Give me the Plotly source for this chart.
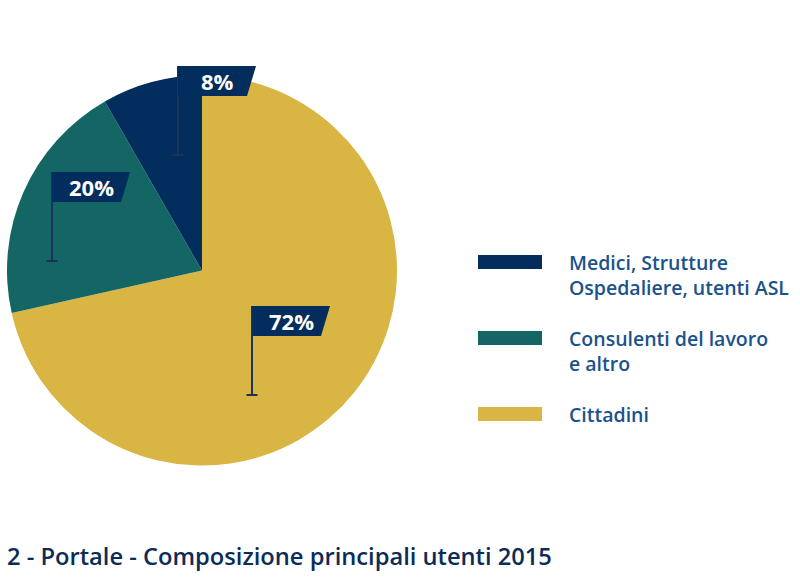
import plotly.graph_objects as go

# ---------------- data ----------------
labels = ["Medici, Strutture Ospedaliere, utenti ASL",
          "Consulenti del lavoro e altro",
          "Cittadini"]
legend_lines = [["Medici, Strutture", "Ospedaliere, utenti ASL"],
                ["Consulenti del lavoro", "e altro"],
                ["Cittadini"]]
values = [8.3, 20.2, 71.5]
colors = ["#032d5c", "#136663", "#d9b544"]
title_text = "2 - Portale - Composizione principali utenti 2015"

# ---------------- layout helpers ----------------
W, H = 800, 580
def px(x): return x / W
def py(y): return 1 - y / H

CX, CY, R = 202, 270.5, 195          # pie placement (pixels)
FONT = "Open Sans"
NAVY = "#032d5c"
POLE = "#1b3358"

# flag pole top-left anchor per slice (pixels)
flag_pos = [(178, 66), (52, 172), (252, 306)]
FLAG_TOP_W, FLAG_BOT_W, FLAG_H, POLE_LEN = 78, 69, 30, 89

# slices drawn clockwise from 12 o'clock: Cittadini, Consulenti, Medici
fig = go.Figure(go.Pie(
    labels=labels[::-1], values=values[::-1], sort=False,
    direction="clockwise", rotation=0,
    marker=dict(colors=colors[::-1], line=dict(width=0)),
    textinfo="none", showlegend=False, hoverinfo="label+percent",
    domain=dict(x=[px(CX - R), px(CX + R)], y=[py(CY + R), py(CY - R)]),
))

shapes, annos = [], []
total = sum(values)
for (fx, fy), v in zip(flag_pos, values):
    # pole
    shapes.append(dict(type="line", xref="paper", yref="paper",
                       x0=px(fx), x1=px(fx), y0=py(fy), y1=py(fy + POLE_LEN),
                       line=dict(color=POLE, width=2)))
    shapes.append(dict(type="line", xref="paper", yref="paper",
                       x0=px(fx - 5.5), x1=px(fx + 5.5),
                       y0=py(fy + POLE_LEN), y1=py(fy + POLE_LEN),
                       line=dict(color=POLE, width=2)))
    # flag
    path = (f"M {px(fx)} {py(fy)} L {px(fx + FLAG_TOP_W)} {py(fy)} "
            f"L {px(fx + FLAG_BOT_W)} {py(fy + FLAG_H)} L {px(fx)} {py(fy + FLAG_H)} Z")
    shapes.append(dict(type="path", xref="paper", yref="paper", path=path,
                       fillcolor=NAVY, line=dict(width=0)))
    annos.append(dict(xref="paper", yref="paper", x=px(fx + 39), y=py(fy + FLAG_H / 2),
                      text=f"{int(v / total * 100 + 0.5)}%", showarrow=False,
                      xanchor="center", yanchor="middle",
                      font=dict(family=FONT, size=22, color="white", weight=700)))

# custom legend
LEG_X0, LEG_X1, LEG_Y0, LEG_STEP, LEG_RH = 478, 542, 255, 76, 14
for i, (lines, c) in enumerate(zip(legend_lines, colors)):
    y0 = LEG_Y0 + i * LEG_STEP
    shapes.append(dict(type="rect", xref="paper", yref="paper",
                       x0=px(LEG_X0), x1=px(LEG_X1), y0=py(y0), y1=py(y0 + LEG_RH),
                       fillcolor=c, line=dict(width=0)))
    annos.append(dict(xref="paper", yref="paper", x=px(567), y=py(y0 - 7.7),
                      text="<br>".join(lines), showarrow=False,
                      xanchor="left", yanchor="top", align="left",
                      font=dict(family=FONT, size=19.5, color="#1a528c", weight=600)))

# title at bottom
annos.append(dict(xref="paper", yref="paper", x=px(5), y=py(574),
                  text=title_text, showarrow=False, xanchor="left", yanchor="bottom",
                  font=dict(family=FONT, size=23.7, color="#0c2c57", weight=600)))

fig.update_layout(
    width=W, height=H, margin=dict(l=0, r=0, t=0, b=0),
    paper_bgcolor="white", plot_bgcolor="white",
    shapes=shapes, annotations=annos, showlegend=False,
)
fig.write_html("out.html")
